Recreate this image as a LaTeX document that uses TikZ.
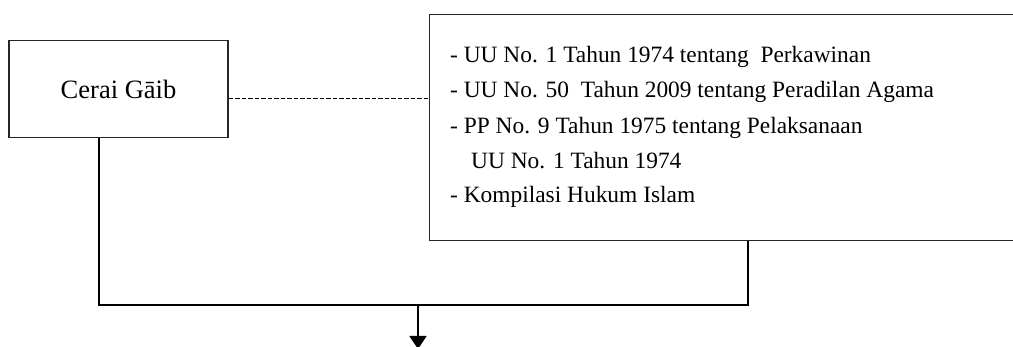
\documentclass[tikz,border=0pt]{standalone}
\usepackage{fontspec}
\setmainfont{Liberation Serif}
\usetikzlibrary{arrows.meta}
\begin{document}
\begin{tikzpicture}[x=1pt,y=-1pt,
  box/.style={draw=black!85, line width=1.1pt, inner sep=0pt},
  conn/.style={draw=black, line width=1.7pt},
  item/.style={anchor=base west, inner sep=0pt, font=\fontsize{23.4}{28}\selectfont},
  dashconn/.style={draw=black, line width=1.5pt, dash pattern=on 4.5pt off 2pt}]
\useasboundingbox (0,0) rectangle (1013,347);
\clip (0,0) rectangle (1013,347);
\node[box, minimum width=219pt, minimum height=97pt, font=\fontsize{26.5}{30}\selectfont] (cg) at (118.5,89) {Cerai Gāib};
\node[box, anchor=north west, minimum width=620pt, minimum height=226pt] (law) at (429,14) {};
\node[item] (l1) at (450,63) {- UU No. 1 Tahun 1974 tentang\ \ Perkawinan};
\node[item] (l2) at (450,98) {- UU No. 50\ \ Tahun 2009 tentang Peradilan Agama};
\node[item] (l3) at (450,134) {- PP No. 9 Tahun 1975 tentang Pelaksanaan};
\node[item] (l4) at (471,169) {UU No. 1 Tahun 1974};
\node[item] (l5) at (450,203) {- Kompilasi Hukum Islam};
\coordinate (j1) at (99,305);
\coordinate (j2) at (748,305);
\coordinate (jm) at (418,305);
\coordinate (out) at (418,349);
\draw[dashconn] (cg.east |- 0,98.7) -- (law.west |- 0,98.7);
\draw[conn] (cg.south -| j1) -- (j1) -- (j2) -- (law.south -| j2);
\draw[conn, -{Triangle[length=13pt,width=17pt]}] (jm) -- (out);
\end{tikzpicture}
\end{document}
